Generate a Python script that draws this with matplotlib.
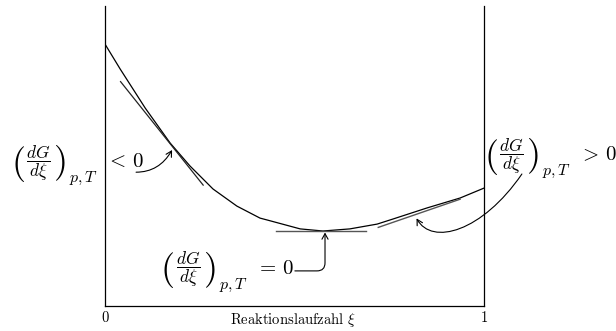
import matplotlib
matplotlib.use("Agg")
import matplotlib.pyplot as plt
from matplotlib.patches import FancyArrowPatch
from matplotlib.path import Path

plt.rcParams["mathtext.fontset"] = "cm"
plt.rcParams["font.family"] = ["DejaVu Serif"]

# Gibbs energy G along the reaction coordinate (schematic)
xi = [0.000, 0.040, 0.106, 0.172, 0.224, 0.285, 0.348, 0.409, 0.427,
      0.515, 0.575, 0.646, 0.718, 0.760, 0.850, 0.937, 1.000]
G = [0.873, 0.790, 0.660, 0.543, 0.467, 0.390, 0.333, 0.293, 0.287,
     0.257, 0.250, 0.257, 0.273, 0.290, 0.327, 0.360, 0.393]

# tangents (start / end points)
tan_neg_x = [0.041, 0.259]
tan_neg_y = [0.748, 0.403]
tan_zero_x = [0.451, 0.689]
tan_zero_y = [0.250, 0.250]
tan_pos_x = [0.721, 0.937]
tan_pos_y = [0.262, 0.356]

tick_pos = [0, 1]
tick_labels = ["$0$", "$1$"]
xlabel = r"$\mathrm{Reaktionslaufzahl}\ \xi$"
deriv_frac = r"$\dfrac{dG}{d\xi}$"
deriv_sub = r"$p,T$"
rel_neg = r"$<\,0$"
rel_zero = r"$=\,0$"
rel_pos = r"$>\,0$"

fig = plt.figure(figsize=(6.16, 3.31), dpi=100)
ax = fig.add_axes([105 / 616, 25 / 331, 379 / 616, 300 / 331])
ax.set_xlim(0, 1)
ax.set_ylim(0, 1)
ax.spines["top"].set_visible(False)
for s in ("left", "right", "bottom"):
    ax.spines[s].set_linewidth(0.9)
    ax.spines[s].set_color("black")
ax.set_yticks([])
ax.set_xticks(tick_pos)
ax.set_xticklabels(tick_labels, fontsize=10.5)
ax.tick_params(axis="x", length=0, pad=3)
ax.text(0.496, -0.047, xlabel, ha="center", va="center", fontsize=10.5,
        clip_on=False)

ax.plot(xi, G, color="black", lw=0.9, solid_joinstyle="round")
ax.plot(tan_neg_x, tan_neg_y, color="#222222", lw=0.9)
ax.plot(tan_zero_x, tan_zero_y, color="#555555", lw=1.0)
ax.plot(tan_pos_x, tan_pos_y, color="#555555", lw=1.0)

arrow_kw = dict(arrowstyle="->,head_length=4,head_width=2.2", color="black",
                lw=0.8, clip_on=False, shrinkA=0, shrinkB=0)

ax.add_patch(FancyArrowPatch((0.082, 0.446), (0.177, 0.520),
                             connectionstyle="angle3,angleA=0,angleB=60",
                             **arrow_kw))
ax.add_patch(FancyArrowPatch((0.501, 0.117), (0.5805, 0.245),
                             connectionstyle="angle,angleA=0,angleB=90,rad=8",
                             **arrow_kw))
pos_path = Path([(1.100, 0.440), (0.995, 0.247), (0.863, 0.200), (0.822, 0.292)],
                [Path.MOVETO, Path.CURVE4, Path.CURVE4, Path.CURVE4])
ax.add_patch(FancyArrowPatch(path=pos_path, **arrow_kw))


def derivative_label(x, y, relation):
    """(dG/dxi)_{p,T} followed by a relation; (x, y) is the left edge of the
    bracket, vertically centred on it."""
    common = dict(xycoords="data", textcoords="offset pixels",
                  annotation_clip=False)
    ax.annotate("$($", (x, y), xytext=(4.5, 0), ha="center", va="center",
                fontsize=26, **common)
    ax.annotate(deriv_frac, (x, y), xytext=(25.5, 0.5), ha="center",
                va="center", fontsize=12.5, **common)
    ax.annotate("$)$", (x, y), xytext=(46, 0), ha="center", va="center",
                fontsize=26, **common)
    ax.annotate(deriv_sub, (x, y), xytext=(56, -18.5), ha="left",
                va="baseline", fontsize=11.5, **common)
    ax.annotate(relation, (x, y), xytext=(93, -3.5), ha="left",
                va="baseline", fontsize=15, **common)


derivative_label(-0.2427, 0.475, rel_neg)
derivative_label(0.153, 0.120, rel_zero)
derivative_label(1.0053, 0.498, rel_pos)

fig.savefig("out.png", dpi=100)
